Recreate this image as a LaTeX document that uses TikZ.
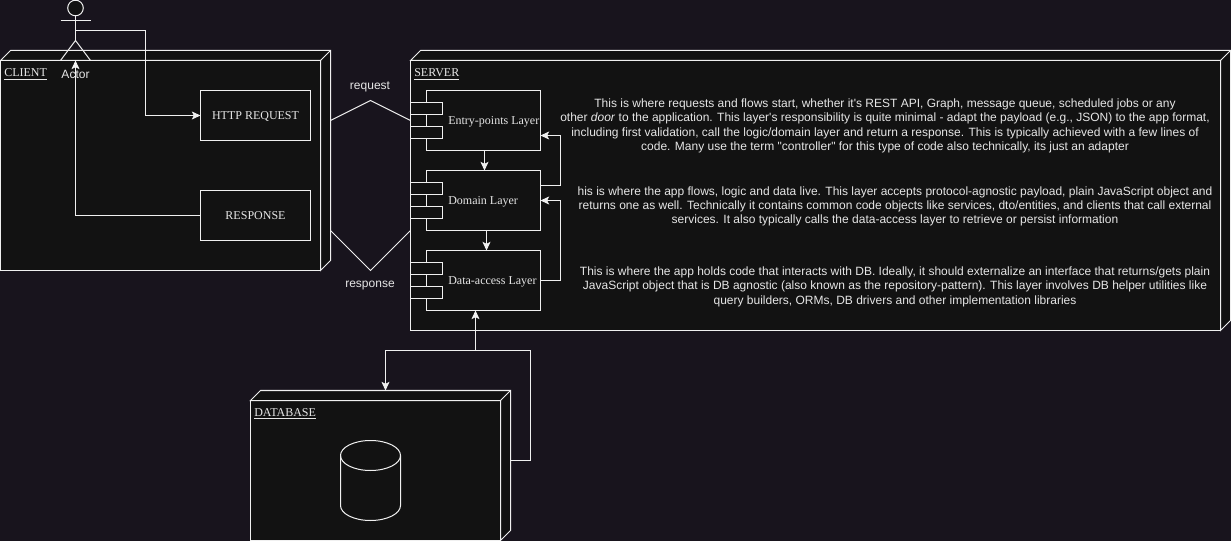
\documentclass[tikz,border=0pt]{standalone}
\usepackage{fontspec}
\setmainfont{Liberation Serif}
\newfontfamily\lsans{Liberation Sans}
\usetikzlibrary{arrows.meta}
\definecolor{pagebg}{HTML}{18141D}
\definecolor{panel}{HTML}{121212}
\definecolor{ink}{HTML}{F0F0F0}
\definecolor{inktext}{HTML}{E6E6E6}
\tikzset{
  line/.style={draw=ink,line width=0.75pt},
  flow/.style={line,-{Stealth[length=6.5pt,width=6pt,inset=1.5pt]},line join=miter},
  shell/.style={line,fill=panel,line join=miter},
  boxnode/.style={shell,rectangle,outer sep=0pt,inner sep=0pt},
  port/.style={boxnode,minimum width=24pt,minimum height=9pt},
  comp/.style={boxnode,minimum width=85.5pt,minimum height=45pt},
  serif/.style={text=inktext,font=\fontsize{9}{10.8}\selectfont,inner sep=0pt,text height=6.75pt,text depth=0pt},
  sans/.style={text=inktext,font=\lsans\fontsize{9}{10.8}\selectfont,inner sep=0pt},
  para/.style={sans,align=center},
  x=0.75pt,y=-0.75pt
}
\newcommand{\threed}[1]{%
  \draw[shell] (#1.north west) -- ++(10,-10) -| ([shift={(10,-10)}]#1.south east) -- (#1.south east) -- (#1.north east) -- cycle;
  \draw[line] (#1.north east) -- ++(10,-10);
}
\newcommand{\component}[3]{%
  \node[comp] (#1) at (483.5,#2) {};
  \node[port] (#1p) at (426.5,#2-12) {};
  \node[port] (#1q) at (426.5,#2+12) {};
  \node[serif,anchor=west] (#1t) at (448,#2) {#3};
}
\begin{document}
\begin{tikzpicture}
\path[fill=pagebg,use as bounding box] (0,0) rectangle (1231,541);

% client
\node[boxnode,minimum width=240pt,minimum height=157.5pt] (client) at (160.5,165.5) {};
\threed{client}
\node[serif,anchor=west] (clientt) at (4,72.5) {\underline{CLIENT}};
\node[boxnode,minimum width=82.5pt,minimum height=37.5pt,serif] (http) at (255.5,115.5) {HTTP REQUEST};
\node[boxnode,minimum width=82.5pt,minimum height=37.5pt,serif] (resp) at (255.5,215.5) {RESPONSE};

% server
\node[boxnode,minimum width=607.5pt,minimum height=202.5pt] (server) at (815.5,195.5) {};
\threed{server}
\node[serif,anchor=west] (servert) at (414,72.5) {\underline{SERVER}};
\component{entry}{120.5}{Entry-points Layer}
\component{domain}{200.5}{Domain Layer}
\component{data}{280.5}{Data-access Layer}

% database
\node[boxnode,minimum width=187.5pt,minimum height=105pt] (db) at (375.5,470.5) {};
\threed{db}
\node[serif,anchor=west] (dbt) at (254,412) {\underline{DATABASE}};
\draw[shell] (340.5,455.5) arc[start angle=180,end angle=0,x radius=30,y radius=-15]
  -- (400.5,505.5) arc[start angle=0,end angle=-180,x radius=30,y radius=-15] -- cycle;
\draw[line] (340.5,455.5) arc[start angle=180,end angle=360,x radius=30,y radius=-15];

% actor
\node[boxnode,circle,minimum size=11.7pt] (head) at (75.5,8) {};
\coordinate (hip) at (75.5,40.5);
\coordinate (shoulder) at (75.5,30.5);
\draw[line] (head.south) -- (hip);
\draw[line] (60.5,20.5) -- (90.5,20.5);
\draw[line,line join=miter] (60.5,60.5) -- (hip) -- (90.5,60.5);
\coordinate (feet) at (75.5,60.5);
\node[sans] (actort) at (75.5,74.5) {Actor};

% request and response links
\draw[line] (330.5,120.5) -- (370.5,100.5) -- (410.5,120.5);
\draw[line] (330.5,230.5) -- (370.5,270.5) -- (410.5,230.5);
\node[sans] (reqt) at (370,86.5) {request};
\node[sans] (respt) at (370,286) {response};

% connectors
\draw[flow] (shoulder) -| (145.5,115.5) -- (http.west);
\draw[flow] (resp.west) -- (75.5,215.5) -- (feet);
\draw[flow] (entry.south -| 484.5,0) -- (domain.north -| 484.5,0);
\draw[flow] (domain.south -| 486.5,0) -- (data.north -| 486.5,0);
\draw[flow] ([yshift=11.25pt]domain.east) -- ++(20,0) |- ([yshift=-11.25pt]entry.east);
\draw[flow] (data.east) -- ++(20,0) |- (domain.east);
\coordinate (dbside) at (510.5,460.5);
\coordinate (bus) at (475.5,350.5);
\draw[flow] (dbside) -- (530.5,460.5) |- (bus) -- (475.5,310.5);
\draw[flow] (bus) -- (385.5,350.5) -- (385.5,390.5);

% descriptions
\node[para] (p1) at (885,126) {This is where requests and flows start, whether it's REST API, Graph, message queue, scheduled jobs or any\\
other \emph{door} to the application. This layer's responsibility is quite minimal - adapt the payload (e.g., JSON) to the app format,\\
including first validation, call the logic/domain layer and return a response. This is typically achieved with a few lines of\\
code. Many use the term "controller" for this type of code also technically, its just an adapter};
\node[para] (p2) at (895,206.5) {his is where the app flows, logic and data live. This layer accepts protocol-agnostic payload, plain JavaScript object and\\
returns one as well. Technically it contains common code objects like services, dto/entities, and clients that call external\\
services. It also typically calls the data-access layer to retrieve or persist information};
\node[para] (p3) at (895,286.5) {This is where the app holds code that interacts with DB. Ideally, it should externalize an interface that returns/gets plain\\
JavaScript object that is DB agnostic (also known as the repository-pattern). This layer involves DB helper utilities like\\
query builders, ORMs, DB drivers and other implementation libraries};
\end{tikzpicture}
\end{document}
